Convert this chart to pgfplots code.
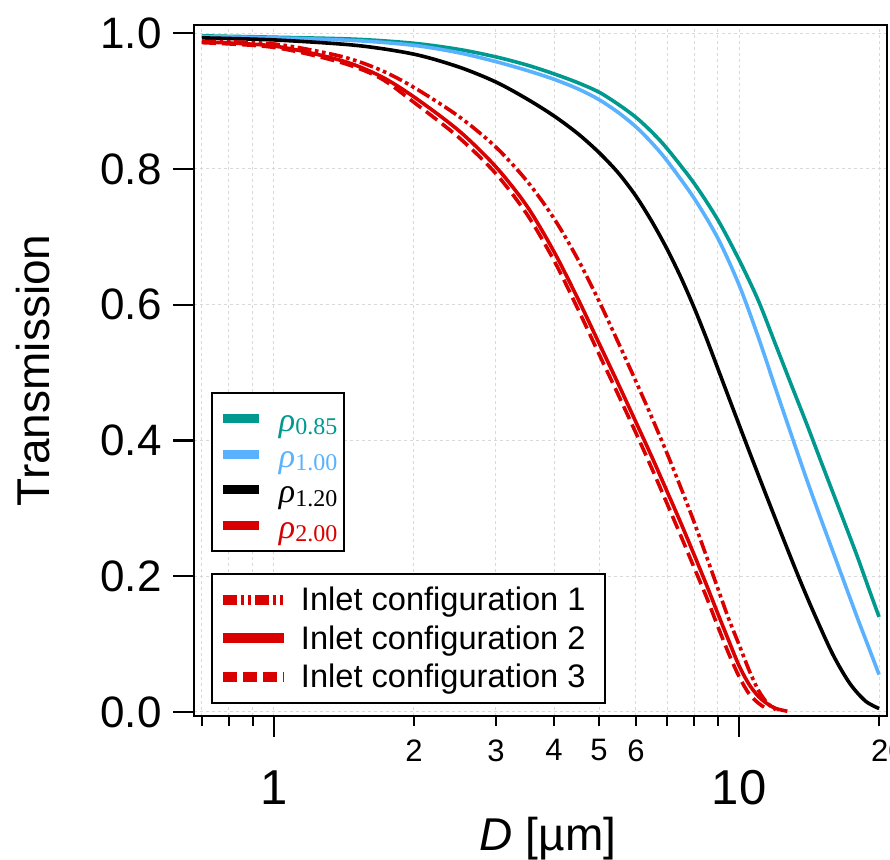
\documentclass[border=0pt]{standalone}
\usepackage{pgfplots}
\pgfplotsset{compat=1.18}
\usepackage{fontspec}
\setmainfont{Liberation Sans}
\newfontfamily\serif{Liberation Serif}

\definecolor{cteal}{RGB}{0,153,143}
\definecolor{cblue}{RGB}{90,178,255}
\definecolor{cred}{RGB}{218,0,0}

% rho legend text: italic rho with upright subscript
\newcommand{\rh}[2]{\raisebox{-6.5pt}{\textcolor{#1}{{\serif\fontsize{17}{18}\selectfont\itshape ρ}{\serif\fontsize{12}{12}\selectfont\raisebox{-1.6pt}{#2}}}}\rule[-8.9pt]{0pt}{17.8pt}}
\newcommand{\cfg}[1]{\raisebox{-5.5pt}{\makebox[149pt][l]{Inlet configuration #1}}\rule[-9.6pt]{0pt}{19.2pt}}

\begin{document}
\begin{tikzpicture}
\begin{axis}[
  name=ax,
  xmode=log,
  scale only axis, width=346.5pt, height=345.5pt,
  xmin=0.673, xmax=20.8, ymin=-0.006, ymax=1.012,
  axis line style={line width=1.25pt},
  every tick/.style={black, line width=1.1pt},
  tick align=outside, tick pos=left,
  major tick length=10.5pt, minor tick length=5pt,
  xtick={1,10}, xticklabels={1,10},
  minor xtick={0.7,0.8,0.9,2,3,4,5,6,7,8,9,20},
  extra x ticks={2,3,4,5,6,20},
  extra x tick labels={2,3,4,5,6,\makebox[0pt][l]{\hspace{-4pt}20}},
  extra x tick style={grid=none, major tick length=5pt,
    xticklabel style={font=\fontsize{15.5}{16}\selectfont, yshift=10pt}},
  xticklabel style={font=\fontsize{24.5}{26}\selectfont, inner sep=0pt, anchor=north, yshift=-16.5pt},
  ytick={0,0.2,0.4,0.6,0.8,1.0},
  yticklabels={0.0,0.2,0.4,0.6,0.8,1.0},
  yticklabel style={font=\fontsize{22}{23}\selectfont, inner sep=0pt, anchor=east, xshift=-5.5pt},
  grid=both,
  major grid style={gray!30, line width=0.5pt, dash pattern=on 1.5pt off 1.5pt},
  minor grid style={gray!30, line width=0.5pt, dash pattern=on 1.5pt off 1.5pt},
  xlabel={\textit{D} [µm]},
  ylabel={Transmission},
  every axis x label/.style={at={(rel axis cs:0.511,-0.194)}, anchor=base, inner sep=0pt, font=\fontsize{23}{24}\selectfont},
  every axis y label/.style={at={(rel axis cs:-0.2078,0.5)}, rotate=90, anchor=south, inner sep=0pt, font=\fontsize{23}{24}\selectfont},
  legend image code/.code={\path[draw=none] (0pt,0pt) -- (28pt,0pt); \draw[#1, line width=4.5pt] (0pt,0pt) -- (18pt,0pt);},
  legend style={at={(0.0245,0.469)}, anchor=north west, draw=black, line width=1pt, fill=white,
    inner xsep=3.25pt, inner ysep=4pt, row sep=0pt, nodes={inner sep=0pt, text depth=8.9pt}},
  legend cell align=left,
]
\addplot[cteal, line width=1.8pt, smooth] coordinates {
  (0.7,0.996) (1,0.994) (1.5,0.991) (2,0.985) (2.5,0.976) (3,0.965) (3.5,0.953) (4,0.940)
  (4.5,0.927) (5,0.913) (5.5,0.895) (6,0.876) (6.5,0.854) (7,0.830) (8,0.779) (9,0.725)
  (10,0.666) (11,0.606) (12,0.540) (13,0.479) (14,0.423) (15,0.369) (16,0.319)
  (17,0.272) (18,0.227) (19,0.182) (20,0.14)};
\addlegendentry{\rh{cteal}{0.85}}
\addplot[cblue, line width=1.8pt, smooth] coordinates {
  (0.7,0.995) (1,0.993) (1.5,0.989) (2,0.982) (2.5,0.971) (3,0.958) (3.5,0.945) (4,0.932)
  (4.5,0.918) (5,0.902) (5.5,0.883) (6,0.862) (6.5,0.838) (7,0.812) (8,0.757) (9,0.698)
  (10,0.629) (11,0.552) (12,0.475) (13,0.405) (14,0.341) (15,0.284) (16,0.232)
  (17,0.183) (18,0.137) (19,0.095) (20,0.055)};
\addlegendentry{\rh{cblue}{1.00}}
\addplot[black, line width=1.8pt, smooth] coordinates {
  (0.7,0.993) (1,0.990) (1.5,0.982) (2,0.969) (2.5,0.950) (3,0.928) (3.5,0.903)
  (4,0.878) (4.5,0.852) (5,0.824) (5.5,0.794) (6,0.760) (6.5,0.722) (7,0.682)
  (7.5,0.640) (8,0.596) (8.5,0.551) (9,0.506) (9.7,0.447) (10.5,0.385) (11.5,0.315)
  (12.5,0.252) (13.5,0.195) (14.5,0.145) (15.9,0.085) (17.3,0.042) (18.7,0.016) (20,0.005)};
\addlegendentry{\rh{black}{1.20}}
\addlegendimage{cred, line width=1.8pt}
\addlegendentry{\rh{cred}{2.00}}
\end{axis}

\begin{axis}[
  xmode=log,
  scale only axis, width=346.5pt, height=345.5pt,
  xmin=0.673, xmax=20.8, ymin=-0.006, ymax=1.012,
  hide axis,
  legend image code/.code={\path[draw=none] (0pt,0pt) -- (39pt,0pt); \draw[#1, line width=5pt] (0pt,0pt) -- (30.5pt,0pt);},
  legend style={at={(0.0245,0.207)}, anchor=north west, draw=black, line width=1pt, fill=white,
    inner xsep=3pt, inner ysep=3.4pt, row sep=0pt, nodes={inner sep=0pt, text depth=9.6pt},
    font=\fontsize{16.3}{17}\selectfont},
  legend cell align=left,
]
\addplot[cred, line width=1.8pt, smooth, dash pattern=on 7pt off 1.8pt on 1.8pt off 1.8pt on 1.8pt off 1.8pt] coordinates {
  (0.7,0.988) (1.0,0.984) (1.39,0.966) (1.69,0.946) (2.0,0.920) (2.5,0.877) (3.0,0.832)
  (3.5,0.782) (4.0,0.727) (4.5,0.667) (5.0,0.605) (5.5,0.544) (6.0,0.487) (6.5,0.433)
  (7.0,0.381) (7.5,0.330) (8.0,0.280) (8.5,0.230) (9.0,0.182) (9.5,0.137) (10.0,0.099)
  (10.5,0.062) (11.0,0.032) (11.5,0.013) (12.0,0.003)};
\addlegendentry{\cfg{1}}
\addplot[cred, line width=1.8pt, smooth] coordinates {
  (0.7,0.987) (1.0,0.981) (1.39,0.960) (1.69,0.937) (2.0,0.906) (2.5,0.856) (3.0,0.803)
  (3.5,0.745) (4.0,0.678) (4.5,0.609) (5.0,0.543) (5.5,0.483) (6.0,0.427) (6.5,0.375)
  (7.0,0.325) (7.5,0.278) (8.0,0.232) (8.5,0.188) (9.0,0.145) (9.5,0.105) (10.0,0.068)
  (10.5,0.041) (11.0,0.023) (11.5,0.012) (12.0,0.005) (12.7,0.001)};
\addlegendentry{\cfg{2}}
\addplot[cred, line width=1.8pt, smooth, dash pattern=on 7pt off 3pt] coordinates {
  (0.7,0.986) (1.0,0.979) (1.39,0.957) (1.69,0.934) (2.0,0.898) (2.5,0.846) (3.0,0.793)
  (3.5,0.733) (4.0,0.665) (4.5,0.594) (5.0,0.527) (5.5,0.467) (6.0,0.411) (6.5,0.358)
  (7.0,0.307) (7.5,0.259) (8.0,0.213) (8.5,0.170) (9.0,0.126) (9.5,0.086) (10.0,0.052)
  (10.5,0.027) (11.0,0.013) (11.5,0.004)};
\addlegendentry{\cfg{3}}
\end{axis}

\pgfresetboundingbox
\path[use as bounding box] ([xshift=-97pt,yshift=-72pt]ax.south west) rectangle ([xshift=1.5pt,yshift=12.5pt]ax.north east);
\end{tikzpicture}
\end{document}
